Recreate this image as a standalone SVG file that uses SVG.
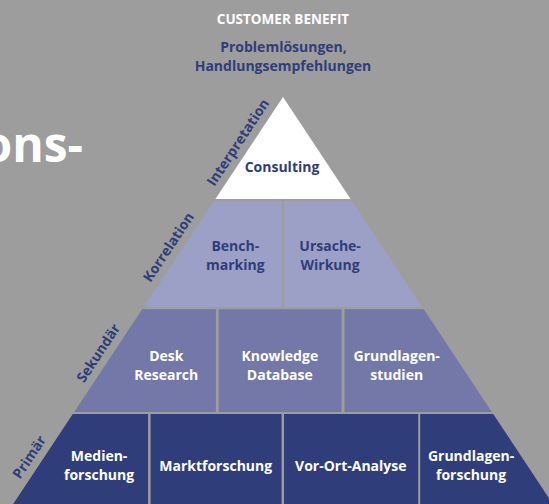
<svg xmlns="http://www.w3.org/2000/svg" width="549" height="504" viewBox="0 0 549 504">
<style>
text{font-family:"Open Sans","Noto Sans","Liberation Sans",sans-serif;font-weight:700;font-size:14px;text-anchor:middle}
.d{fill:#2f3d7b}
.w{fill:#ffffff}
.t1{fill:#ffffff}
.t2{fill:#9da0c6}
.t3{fill:#7378a9}
.t4{fill:#2f3e7a}
</style>
<rect x="0" y="0" width="549" height="504" fill="#9d9d9d"/>
<text class="w" x="83" y="162" style="font-size:48px;text-anchor:end">ons-</text>
<g id="header">
<text class="w" x="283" y="24" style="font-size:13.5px">CUSTOMER BENEFIT</text>
<text class="d" x="283.5" y="51.5">Problemlösungen,</text>
<text class="d" x="283" y="71">Handlungsempfehlungen</text>
</g>
<g id="axis-labels">
<text class="d" x="0" y="4.5" transform="translate(238.3,142.5) rotate(-56.5)">Interpretation</text>
<text class="d" x="0" y="4.5" transform="translate(168.9,247.3) rotate(-56.5)">Korrelation</text>
<text class="d" x="0" y="4.5" transform="translate(98.6,353.3) rotate(-56.5)">Sekundär</text>
<text class="d" x="0" y="4.5" transform="translate(29.6,457.3) rotate(-56.5)">Primär</text>
</g>
<g id="consulting">
<polygon class="t1" points="283,97 350.6,199 215.4,199"/>
<text class="d" x="282" y="171.5">Consulting</text>
</g>
<g id="benchmarking">
<polygon class="t2" points="214,201 281.7,201 281.7,307 143.8,307"/>
<text class="d" x="235.3" y="250.7">Bench-</text>
<text class="d" x="235.3" y="270">marking</text>
</g>
<g id="ursache-wirkung">
<polygon class="t2" points="284.3,201 352,201 422.2,307 284.3,307"/>
<text class="d" x="330.1" y="250.7">Ursache-</text>
<text class="d" x="330.1" y="270">Wirkung</text>
</g>
<g id="desk-research">
<polygon class="t3" points="142.2,309.3 215.9,309.3 215.9,412 74.2,412"/>
<text class="w" x="166.3" y="360.7">Desk</text>
<text class="w" x="166.3" y="380">Research</text>
</g>
<g id="knowledge-database">
<rect class="t3" x="218.7" y="309.3" width="122.9" height="102.7"/>
<text class="w" x="279.8" y="360.7">Knowledge</text>
<text class="w" x="279.8" y="380">Database</text>
</g>
<g id="grundlagenstudien">
<polygon class="t3" points="344.5,309.3 423.8,309.3 491.8,412 344.5,412"/>
<text class="w" x="396.7" y="360.7">Grundlagen-</text>
<text class="w" x="396.7" y="380">studien</text>
</g>
<g id="medienforschung">
<polygon class="t4" points="72.8,414 148.1,414 148.1,504 13.2,504"/>
<text class="w" x="99.1" y="460.7">Medien-</text>
<text class="w" x="99.1" y="479.5">forschung</text>
</g>
<g id="marktforschung">
<rect class="t4" x="150.6" y="414" width="131" height="90"/>
<text class="w" x="215.7" y="470.7">Marktforschung</text>
</g>
<g id="vor-ort-analyse">
<rect class="t4" x="284" y="414" width="134.2" height="90"/>
<text class="w" x="350.8" y="470.7">Vor-Ort-Analyse</text>
</g>
<g id="grundlagenforschung">
<polygon class="t4" points="420.2,414 493.2,414 552.8,504 420.2,504"/>
<text class="w" x="471.1" y="460.7">Grundlagen-</text>
<text class="w" x="471.1" y="479.5">forschung</text>
</g>
<g id="connectors"></g>
</svg>
